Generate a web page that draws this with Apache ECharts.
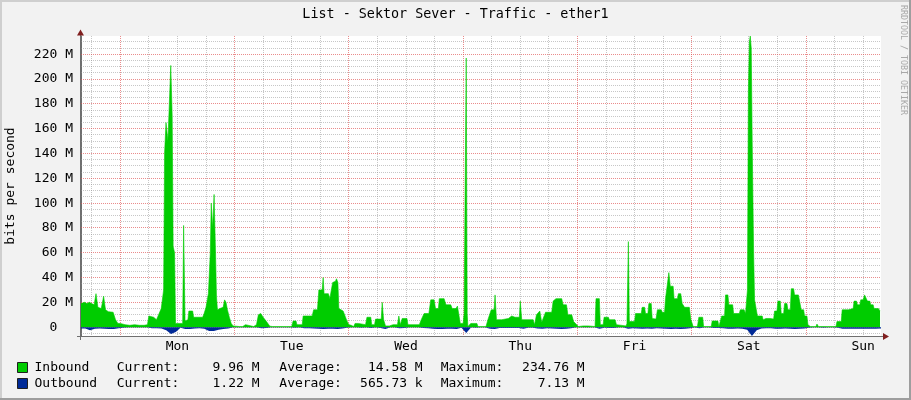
<!DOCTYPE html>
<html><head><meta charset="utf-8">
<script src="https://cdn.jsdelivr.net/npm/echarts@6/dist/echarts.min.js"></script>
<style>html,body{margin:0;padding:0;background:#f2f2f2}#c{width:911px;height:400px}</style>
</head><body><div id="c"></div>
<script>
// ---------------- data ----------------
const chartTitle = 'List - Sektor Sever - Traffic - ether1';
const yAxisTitle = 'bits per second';
const dayLabels = ['Mon', 'Tue', 'Wed', 'Thu', 'Fri', 'Sat', 'Sun'];
// hours relative to Monday 00:00
const timeRange = [-8.25, 159.75];
const valueRange = [-7.13, 234.76]; // M bits/s (outbound drawn negative)
// grid positions (ticks)
const majorHours = [0, 24, 48, 72, 96, 120, 144];
const minorHours = [-6, 6, 12, 18, 30, 36, 42, 54, 60, 66, 78, 84, 90, 102, 108, 114, 126, 132, 138, 150, 156];
const majorValues = [0, 20, 40, 60, 80, 100, 120, 140, 160, 180, 200, 220];
const minorValues = [-5, 5, 10, 15, 25, 30, 35, 45, 50, 55, 65, 70, 75, 85, 90, 95, 105, 110, 115, 125, 130, 135,
  145, 150, 155, 165, 170, 175, 185, 190, 195, 205, 210, 215, 225, 230];

// Inbound samples: time (h) and value (Mbit/s)
const inTimes = [
-8.25,-7.5,-7,-6.5,-6,-5.5,-5.1,-4.7,-4,-3.5,-3.1,-2.5,-1.5,-1,-0.5,0,1,2,3,4,5,5.7,6,7,7.6,8,8.6,9.1,
9.3,9.6,10.0,10.3,10.6,10.9,11.1,11.4,11.6,12,12.5,13.1,13.3,13.6,14.2,14.4,15.2,15.4,17.3,17.6,18.0,18.5,
18.9,19.1,19.4,19.7,20.0,20.2,20.4,20.9,21.6,21.9,22.2,22.5,22.9,23.3,23.7,24,25,25.4,25.7,26.3,26.6,28,
28.6,29,29.5,30,30.7,31.4,32,34.3,34.6,34.9,36,36.3,36.9,37.1,38.2,38.4,40.3,40.6,41.4,41.7,42.4,42.6,
42.8,43.7,44.0,44.4,44.6,45.2,45.4,45.7,45.9,46.8,47.2,47.6,48,48.5,49,49.3,50,50.3,51.5,51.8,52.6,52.8,
53.4,53.6,54.8,55.0,55.3,55.7,56.5,57.3,58.2,58.5,58.8,59.2,60.2,60.4,62.8,63.2,63.8,64.8,65.2,65.9,66.2,
66.8,67.0,68.0,68.4,69.4,69.7,70.5,70.8,71.2,71.4,72.0,72.2,72.5,72.65,72.85,73.0,73.6,74.9,75.1,76.8,
77.2,77.9,78.5,78.7,79.0,80.1,81.5,82.2,82.9,83.8,84.0,84.3,86.7,87.0,87.4,88.1,88.5,89.3,90.6,90.9,91.5,
92.7,93.0,93.7,94.0,94.8,95.2,96.2,97.2,98.3,98.6,99.7,99.9,100.6,100.8,101.4,101.6,102.5,102.7,103.9,
104.2,104.5,106.2,106.4,106.7,106.9,108.0,108.2,109.4,109.6,110.1,110.3,110.8,111.0,111.5,111.7,112.5,
112.8,113.6,113.8,114.3,114.5,114.9,115.2,115.5,116.1,116.3,117.0,117.2,117.7,118.0,118.5,119.5,119.8,
120.3,121.2,121.5,122.3,122.5,124.1,124.3,125.5,125.7,126.1,126.3,126.9,127.1,127.6,127.8,128.6,128.8,
130.0,130.2,131.0,131.3,131.7,131.9,132.1,132.3,132.5,132.7,133.0,133.2,133.6,133.8,134.8,135.0,135.4,
135.6,136.5,136.7,137.2,137.4,137.9,138.1,138.6,138.8,139.3,139.5,140.0,140.2,140.7,140.9,141.4,141.6,
142.4,142.6,142.8,143.0,143.5,143.7,144.2,144.4,144.9,146.1,146.3,146.6,148.5,148.7,149.0,150.3,150.5,
151.4,151.6,152.9,153.1,153.9,154.1,154.6,154.8,155.3,155.5,156.0,156.3,156.7,156.9,157.4,157.6,158.1,
158.3,159.2,159.55
];
const inbound = [
19,20,19,20,19,18,27,16,15,25,14,12.5,12,6,3,3,2,1.5,2,1.5,1.5,2,9,8,6,7,15,30,
140,165,150,180,211,170,65,60,3,2,3,3,82,5,6,13,13,8,8,11,16,27,
60,100,80,107,60,25,14,15,16,22,20,14,8,3,1,0.5,0.5,2,0.5,2,0.5,0.5,
2,10,11,8,4.5,0.8,0.5,0.5,2,0.5,0.5,5,5,2,2,9,9,14,14,30,30,40,
27,27,23,23,36,37,39,36,15,13,13,5,2,1.5,0.5,3,3,2,2,8,8,2,
2,6.5,6.5,20,6,1,1,2,2,9,2,7,7,2,2,6,11,11,22,22,15,
15,23,23,18,18,15,15,17,17,3,3,11,11,217,11,0.5,3,3,0.5,0.5,
6,14,14,26,6,6,7,9,8,8,21,6,6,2,10,13,4,12,12,21,23,
23,18,18,10,10,4.5,0.5,1,1,0.5,0.5,23,23,2,2,8,8,6,6,
2,1,1,3,69,4.5,4.5,11,11,16,16,11,11,19,19,7,6.5,
14,14,12,12,23,23,44,33,33,23,23,27,27,19,16,16,6.5,
0.5,0.5,8,8,0.5,0.5,5,5,0.5,0.5,9,9,26,26,18,18,11,
11,14,14,11,30,190,230,234.76,225,150,60,22,22,9,9,6,6,
7,7,6.5,6.5,13,13,21,21,11,11,19,19,14,14,31,31,26,
26,25,25,14,14,9,9,2,0.5,0.5,2.5,0.5,0.5,2,0.5,0.5,4.5,
4.5,14,14,15,15,21,21,18,18,22,22,26,26,21,21,18,18,
15,15,13
];
// Outbound hourly samples (Mbit/s), first sample at outStart hours, one per hour
const outStart = -8.35;
const outbound = [
1.0,1.0,2.5,1.2,1.0,1.2,1.5,1.5,0.8,
0.5,0.3,0.3,0.3,0.3,0.3,0.8,0.8,
1.0,2.5,5.5,4.0,0.5,1.5,1.5,1.0,
0.8,1.2,3.0,3.0,2.0,1.5,1.0,0.3,
0.3,0.3,0.3,0.3,0.3,0.8,0.6,0.3,
0.3,0.3,0.3,0.3,0.5,0.3,0.8,0.8,
1.0,1.2,1.5,1.2,1.3,1.5,1.0,0.5,
0.3,0.3,0.5,0.3,0.6,0.3,0.6,1.5,
0.3,0.3,0.8,0.6,0.3,0.3,0.3,0.6,
0.8,1.3,1.5,1.5,1.3,1.2,1.5,0.5,
4.8,0.3,0.5,0.3,0.3,1.2,1.5,0.6,
0.6,0.6,0.6,0.6,1.2,0.5,0.5,1.0,
1.3,0.8,1.0,1.3,1.4,1.3,0.8,0.3,
0.3,0.3,0.3,0.3,1.2,0.5,0.6,0.6,
0.3,0.3,1.3,0.8,1.0,1.2,1.0,1.2,
0.8,1.0,1.3,1.5,1.3,1.5,1.2,0.8,
0.3,0.8,0.3,0.3,0.6,0.6,0.8,1.3,
1.2,1.0,1.2,2.0,7.13,2.5,1.0,0.8,
0.8,1.2,1.3,1.0,1.2,1.4,1.3,1.0,
0.5,0.3,0.3,0.5,0.3,0.3,0.5,1.2,
1.2,1.2,1.3,1.2,1.3,1.2,1.2,1.0,1.0
];
const legendNames = ['Inbound', 'Outbound'];
const legendColors = ['#00cc00', '#002a97'];
const legendCurrent = ['9.96 M', '1.22 M'];
const legendAverage = ['14.58 M', '565.73 k'];
const legendMaximum = ['234.76 M', '7.13 M'];
const watermark = 'RRDTOOL / TOBI OETIKER';

// ---------------- chart ----------------
const FONT = 'DejaVu Sans Mono';
const chart = echarts.init(document.getElementById('c'));
const GRID_C = 'rgba(143,143,143,0.5)';
const MGRID_C = 'rgba(222,79,79,0.65)';
const AXIS_C = '#6f6f6f';
const ARROW_C = '#801f1f';
const GRID_BOX = { left: 81, top: 36, width: 800, height: 300 };

function hiddenAxisBase() {
  return {
    axisLine: { show: false, onZero: false },
    axisTick: { show: false },
    axisLabel: { show: false },
    splitLine: { show: false }
  };
}

const inData = inTimes.map((t, i) => [t, inbound[i]]);
const outData = outbound.map((v, i) => [outStart + i, -v]);

const xAxes = [
  // data axis (hours)
  Object.assign(hiddenAxisBase(), {
    type: 'value', position: 'bottom', min: timeRange[0], max: timeRange[1],
    axisLine: { show: true, onZero: false, lineStyle: { color: AXIS_C, width: 1 } }
  }),
  // day labels at noon (day units, shifted half a day)
  Object.assign(hiddenAxisBase(), {
    type: 'value', position: 'bottom', min: timeRange[0] / 24 - 0.5, max: timeRange[1] / 24 - 0.5,
    splitNumber: 7, minInterval: 1, maxInterval: 1,
    axisLabel: {
      show: true, showMinLabel: false, showMaxLabel: false, margin: 4,
      fontFamily: FONT, fontSize: 13, color: '#000',
      formatter: v => (Number.isInteger(v) && dayLabels[v]) ? dayLabels[v] : ''
    }
  })
];

const yAxes = [
  Object.assign(hiddenAxisBase(), {
    type: 'value', position: 'left', min: valueRange[0], max: valueRange[1],
    splitNumber: 12, minInterval: 20, maxInterval: 20,
    axisLine: { show: true, onZero: false, lineStyle: { color: AXIS_C, width: 1 } },
    axisLabel: {
      show: true, showMinLabel: false, showMaxLabel: false, margin: 8,
      fontFamily: FONT, fontSize: 13, color: '#000',
      formatter: v => Math.abs(v) < 1e-9 ? '0  ' : (Math.round(v) + ' M')
    },
    name: yAxisTitle, nameLocation: 'middle', nameGap: 64, nameRotate: 90,
    nameTextStyle: { fontFamily: FONT, fontSize: 13, color: '#000' }
  })
];

chart.setOption({
  backgroundColor: '#f2f2f2',
  animation: false,
  grid: Object.assign({ show: true, backgroundColor: '#ffffff', borderWidth: 0, containLabel: false, outerBoundsMode: 'none' }, GRID_BOX),
  xAxis: xAxes,
  yAxis: yAxes,
  series: [
    {
      name: legendNames[0], type: 'line', xAxisIndex: 0, yAxisIndex: 0, data: inData,
      symbol: 'none', clip: true, z: 3,
      lineStyle: { color: legendColors[0], width: 0.6 },
      areaStyle: { color: legendColors[0], opacity: 1 }
    },
    {
      name: legendNames[1], type: 'line', xAxisIndex: 0, yAxisIndex: 0, data: outData,
      symbol: 'none', clip: true, z: 3,
      lineStyle: { color: legendColors[1], width: 0 },
      areaStyle: { color: legendColors[1], opacity: 1 }
    }
  ]
});

// ---------- grid lines, positioned through the chart's own scales ----------
const crisp = p => Math.round(p - 0.5) + 0.5;
const gTop = GRID_BOX.top, gBottom = GRID_BOX.top + GRID_BOX.height;
const gLeft = GRID_BOX.left, gRight = GRID_BOX.left + GRID_BOX.width;
const graphics = [];
function vLine(h, color) {
  const x = crisp(chart.convertToPixel({ xAxisIndex: 0 }, h));
  graphics.push({ type: 'line', z: 1, silent: true, shape: { x1: x, y1: gTop, x2: x, y2: gBottom }, style: { stroke: color, lineWidth: 1, lineDash: [1, 1] } });
}
function hLine(v, color) {
  const y = crisp(chart.convertToPixel({ yAxisIndex: 0 }, v));
  graphics.push({ type: 'line', z: 1, silent: true, shape: { x1: gLeft, y1: y, x2: gRight, y2: y }, style: { stroke: color, lineWidth: 1, lineDash: [1, 1] } });
}
minorValues.forEach(v => hLine(v, GRID_C));
minorHours.forEach(h => vLine(h, GRID_C));
majorValues.forEach(v => hLine(v, MGRID_C));
majorHours.forEach(h => vLine(h, MGRID_C));

// 3D border
graphics.push({ type: 'rect', shape: { x: 0, y: 0, width: 911, height: 2 }, style: { fill: '#cfcfcf' }, silent: true });
graphics.push({ type: 'rect', shape: { x: 0, y: 0, width: 2, height: 400 }, style: { fill: '#cfcfcf' }, silent: true });
graphics.push({ type: 'rect', shape: { x: 0, y: 398, width: 911, height: 2 }, style: { fill: '#9e9e9e' }, silent: true });
graphics.push({ type: 'rect', shape: { x: 909, y: 0, width: 2, height: 400 }, style: { fill: '#9e9e9e' }, silent: true });
// title
graphics.push({ type: 'text', x: 455.5, y: 15, style: { text: chartTitle, font: '13.4px "' + FONT + '"', fill: '#000', textAlign: 'center', textVerticalAlign: 'middle', align: 'center', verticalAlign: 'middle' } });
// watermark
graphics.push({ type: 'text', x: 903, y: 60, rotation: -Math.PI / 2, style: { text: watermark, font: '8.3px "' + FONT + '"', fill: '#a8a8a8', textAlign: 'center', textVerticalAlign: 'middle', align: 'center', verticalAlign: 'middle' } });
// axis arrows + extensions
graphics.push({ type: 'line', z: 5, shape: { x1: 80.5, y1: 31, x2: 80.5, y2: 340 }, style: { stroke: AXIS_C, lineWidth: 1 } });
graphics.push({ type: 'line', z: 5, shape: { x1: 77, y1: 336.5, x2: 884, y2: 336.5 }, style: { stroke: AXIS_C, lineWidth: 1 } });
graphics.push({ type: 'polygon', z: 5, shape: { points: [[80.5, 29.5], [77, 35.5], [84, 35.5]] }, style: { fill: ARROW_C } });
graphics.push({ type: 'polygon', z: 5, shape: { points: [[889, 336.5], [883, 333], [883, 340]] }, style: { fill: ARROW_C } });
// legend
const rowY = [368, 384];
legendNames.forEach((name, i) => {
  const y = rowY[i];
  const f = '13px "' + FONT + '"';
  const t = (text, x, align) => ({ type: 'text', x: x, y: y, style: { text: text, font: f, fill: '#000', textAlign: align, align: align, textVerticalAlign: 'middle', verticalAlign: 'middle' } });
  graphics.push({ type: 'rect', shape: { x: 17.5, y: y - 5.5, width: 10, height: 10 }, style: { fill: legendColors[i], stroke: '#1f1f1f', lineWidth: 1 } });
  graphics.push(t(name, 34.5, 'left'));
  graphics.push(t('Current:', 116.7, 'left'));
  graphics.push(t(legendCurrent[i], 259.5, 'right'));
  graphics.push(t('Average:', 279.3, 'left'));
  graphics.push(t(legendAverage[i], 422.7, 'right'));
  graphics.push(t('Maximum:', 440.7, 'left'));
  graphics.push(t(legendMaximum[i], 584.7, 'right'));
});

chart.setOption({ graphic: graphics });
</script>
</body></html>
